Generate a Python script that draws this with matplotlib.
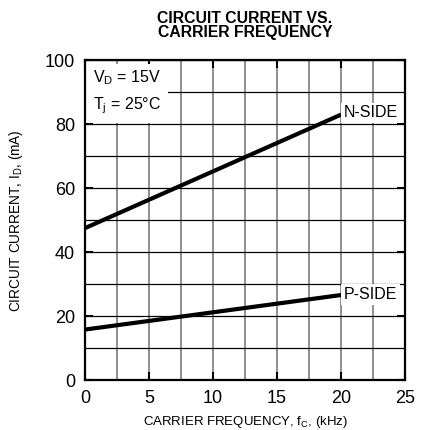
from matplotlib import pyplot as plt
from matplotlib.ticker import MultipleLocator

plt.rcParams['font.family'] = ['Liberation Sans', 'DejaVu Sans']

freq = [0, 20]
n_side = [47.5, 83]
p_side = [15.8, 26.6]


def plot_current():
    fig = plt.figure(figsize=(4.31, 4.30), dpi=100)
    ax = fig.add_axes([0.197, 0.116, 0.743, 0.744])

    ax.plot(freq, n_side, color='black', lw=3, solid_capstyle='butt', zorder=3)
    ax.plot(freq, p_side, color='black', lw=3, solid_capstyle='butt', zorder=3)

    ax.set_xlim(0, 25)
    ax.set_ylim(0, 100)
    ax.xaxis.set_major_locator(MultipleLocator(5))
    ax.yaxis.set_major_locator(MultipleLocator(20))
    ax.xaxis.set_minor_locator(MultipleLocator(2.5))
    ax.yaxis.set_minor_locator(MultipleLocator(10))
    ax.xaxis.grid(which='both', color='#707070', lw=1.1)
    ax.yaxis.grid(which='both', color='black', lw=0.9)
    ax.tick_params(which='major', direction='in', length=6, width=1.5,
                   top=True, right=True, labelsize=13, pad=7)
    ax.tick_params(which='minor', length=0)
    for s in ax.spines.values():
        s.set_linewidth(1.6)
        s.set_zorder(5)

    ax.set_title('CIRCUIT CURRENT VS.\nCARRIER FREQUENCY', fontsize=11.3,
                 fontweight='bold', linespacing=0.9, pad=17)
    ax.set_xlabel('CARRIER FREQUENCY, f$_\\mathregular{C}$, (kHz)', fontsize=9.5, labelpad=5)
    ax.set_ylabel('CIRCUIT CURRENT, I$_\\mathregular{D}$, (mA)', fontsize=9.8, labelpad=14)

    ax.text(0.6, 90, 'V$_\\mathregular{D}$ = 15V\nT$_\\mathregular{j}$ = 25°C', fontsize=11.5,
            va='center', linespacing=1.55, zorder=4,
            bbox=dict(facecolor='white', edgecolor='none', pad=5))
    box = dict(facecolor='white', edgecolor='none', pad=2)
    ax.text(20.2, 83.5, 'N-SIDE', fontsize=11.5, va='center', bbox=box, zorder=4)
    ax.text(20.2, 26.8, 'P-SIDE', fontsize=11.5, va='center', bbox=box, zorder=4)

    fig.savefig('out.png')


if __name__ == '__main__':
    plot_current()
